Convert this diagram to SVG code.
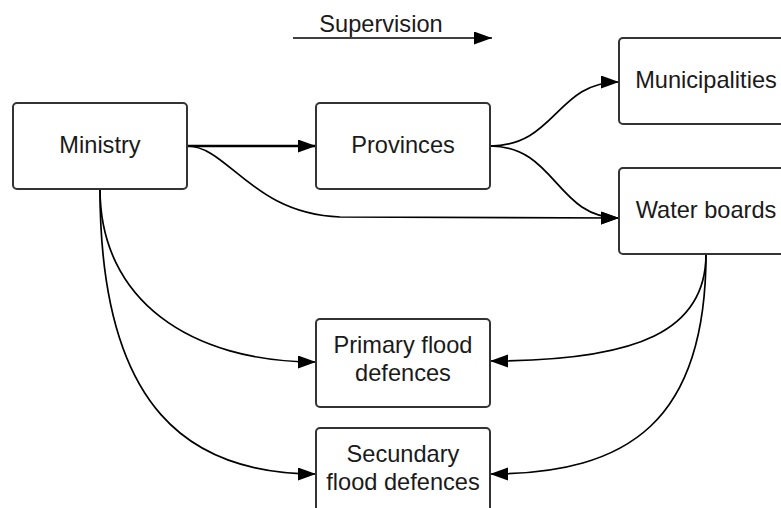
<svg xmlns="http://www.w3.org/2000/svg" width="781" height="508" viewBox="0 0 781 508">
  <style>
    .box { fill: #ffffff; stroke: #333333; stroke-width: 2; }
    .lbl { font-family: "Liberation Sans", Arial, sans-serif; font-size: 23.6px; fill: #1a1a1a; text-anchor: middle; }
    .edge { fill: none; stroke: #000000; stroke-width: 1.7; marker-end: url(#arrow); }
    .main { stroke-width: 2.3; }
  </style>
  <defs>
    <marker id="arrow" markerUnits="userSpaceOnUse" markerWidth="19" markerHeight="14" refX="18" refY="6.5" orient="auto">
      <path d="M0,0 L18,6.5 L0,13 z" fill="#000000"/>
    </marker>
  </defs>
  <rect width="781" height="508" fill="#ffffff"/>

  <!-- legend -->
  <g id="legend">
    <text class="lbl" x="381" y="32">Supervision</text>
    <path class="edge" d="M293,38 L492,38"/>
  </g>

  <!-- connectors -->
  <g id="connectors">
    <path class="edge main" d="M187,146 L316,146"/>
    <path class="edge" d="M187,146 C228,146 252,214 340,217 L619,218"/>
    <path class="edge" d="M490,146 C556,146 556,82 619,82"/>
    <path class="edge" d="M490,146 C556,146 556,218 619,218"/>
    <path class="edge" d="M706,254 C706,330 640,361 490,361"/>
    <path class="edge" d="M706,254 C706,420 630,474 490,474"/>
    <path class="edge" d="M100,189 C100,300 190,362 316,362"/>
    <path class="edge" d="M100,189 C100,410 190,474 316,474"/>
  </g>

  <!-- nodes -->
  <g id="ministry">
    <rect class="box" x="13" y="103" width="174" height="86" rx="4"/>
    <text class="lbl" x="100" y="153">Ministry</text>
  </g>
  <g id="provinces">
    <rect class="box" x="316" y="103" width="174" height="86" rx="4"/>
    <text class="lbl" x="403" y="153">Provinces</text>
  </g>
  <g id="municipalities">
    <rect class="box" x="619" y="38" width="174" height="86" rx="4"/>
    <text class="lbl" x="706" y="88">Municipalities</text>
  </g>
  <g id="water-boards">
    <rect class="box" x="619" y="168" width="174" height="86" rx="4"/>
    <text class="lbl" x="706" y="218">Water boards</text>
  </g>
  <g id="primary-flood-defences">
    <rect class="box" x="316" y="319" width="174" height="88" rx="4"/>
    <text class="lbl" x="403" y="353">Primary flood</text>
    <text class="lbl" x="403" y="381">defences</text>
  </g>
  <g id="secundary-flood-defences">
    <rect class="box" x="316" y="428" width="174" height="88" rx="4"/>
    <text class="lbl" x="403" y="462">Secundary</text>
    <text class="lbl" x="403" y="490">flood defences</text>
  </g>
</svg>
